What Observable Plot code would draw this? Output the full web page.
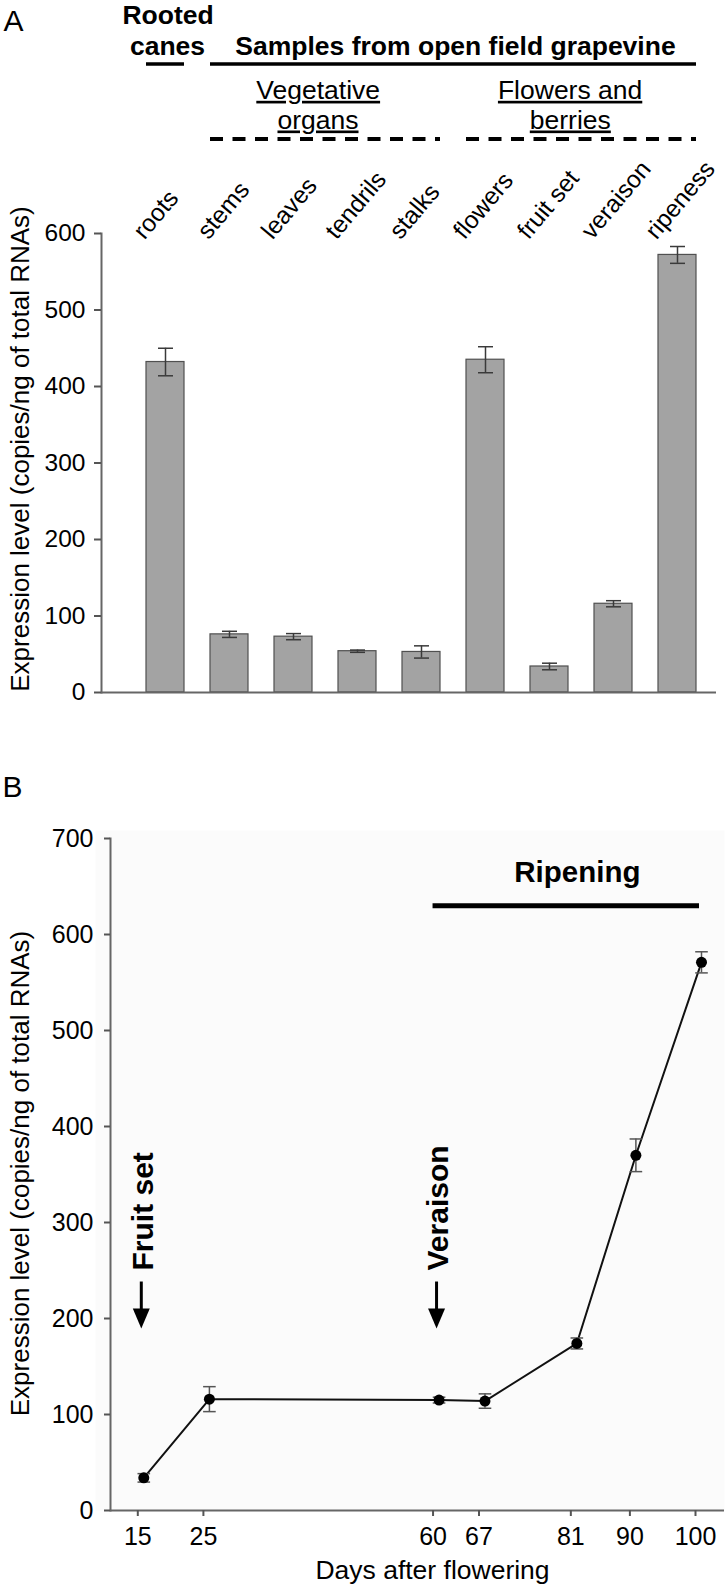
<!DOCTYPE html>
<html>
<head>
<meta charset="utf-8">
<script src="https://cdn.jsdelivr.net/npm/d3@7"></script>
<script src="https://cdn.jsdelivr.net/npm/@observablehq/plot@0.6"></script>
<style>
  body { margin: 0; background: #fff; }
  #chart { width: 728px; }
  #chart svg { display: block; }
  text[aria-label="ul"] { text-decoration: underline; text-decoration-thickness: 1.5px; text-underline-offset: 3px; }
</style>
</head>
<body>
<div id="chart"></div>
<script>
// ---------- Panel A data ----------
const organs = ["roots", "stems", "leaves", "tendrils", "stalks", "flowers", "fruit set", "veraison", "ripeness"];
const organValues = [432, 76, 73, 54, 53, 435, 34, 116, 572];
const organErrors = [18, 4, 4, 1.5, 8, 17, 4.3, 4, 11];
const yTicksA = [0, 100, 200, 300, 400, 500, 600];

// ---------- Panel B data ----------
const days = [15, 25, 60, 67, 81, 90, 100];
const dayValues = [34, 116, 115, 114, 174, 370, 571];
const dayErrors = [4.4, 13, 3, 7.5, 5.7, 17, 11];
const yTicksB = [0, 100, 200, 300, 400, 500, 600, 700];
const xTicksB = [15, 25, 60, 67, 81, 90, 100];
const events = ["Fruit set", "Veraison"];
const eventDays = [15, 60];
const ripeningSpan = [60, 100];

const FONT = '"Liberation Sans", Arial, Helvetica, sans-serif';

// custom symbols
const hline = {draw(ctx, size) { const r = Math.sqrt(size / Math.PI); ctx.moveTo(-r, 0); ctx.lineTo(r, 0); }};
const headDown = {draw(ctx, size) { const r = Math.sqrt(size / Math.PI); ctx.moveTo(-0.85 * r, -r); ctx.lineTo(0.85 * r, -r); ctx.lineTo(0, r); ctx.closePath(); }};

const tableA = organs.map((o, i) => ({organ: o, value: organValues[i], lo: organValues[i] - organErrors[i], hi: organValues[i] + organErrors[i]}));
const tableB = days.map((d, i) => ({day: d, value: dayValues[i], lo: dayValues[i] - dayErrors[i], hi: dayValues[i] + dayErrors[i]}));

const ul = () => "ul";

const plotA = Plot.plot({
  width: 728, height: 705,
  marginTop: 233, marginBottom: 13, marginLeft: 101, marginRight: 12,
  style: {fontFamily: FONT, background: "white", color: "black", overflow: "visible"},
  x: {domain: organs, range: [145, 697], paddingInner: 0.4, paddingOuter: 0, axis: null},
  y: {domain: [0, 600], axis: null},
  marks: [
    Plot.barY(tableA, {x: "organ", y: "value", fill: "#a3a3a3", stroke: "#505050", strokeWidth: 1.2}),
    Plot.ruleX(tableA, {x: "organ", y1: "lo", y2: "hi", stroke: "#3a3a3a", strokeWidth: 1.5}),
    Plot.dot(tableA, {x: "organ", y: "lo", symbol: hline, r: 7.5, fill: "none", stroke: "#3a3a3a", strokeWidth: 1.5}),
    Plot.dot(tableA, {x: "organ", y: "hi", symbol: hline, r: 7.5, fill: "none", stroke: "#3a3a3a", strokeWidth: 1.5}),
    Plot.ruleY([0], {stroke: "#666", strokeWidth: 2}),
    Plot.frame({anchor: "left", stroke: "#666", strokeWidth: 2}),
    Plot.axisY(yTicksA, {tickSize: 7, tickPadding: 9, fontSize: 24.5, stroke: "#555", strokeWidth: 2, fill: "black", label: null}),
    // y title
    Plot.text(["Expression level (copies/ng of total RNAs)"], {frameAnchor: "left", rotate: -90, textAnchor: "middle", lineAnchor: "bottom", dx: -73, dy: -14, fontSize: 26, fill: "black"}),
    // category labels
    Plot.text(organs, {x: (d) => d, frameAnchor: "top", rotate: -50, textAnchor: "start", lineAnchor: "bottom", dx: -21, dy: 7, fontSize: 24.5, fill: "black"}),
    // panel letter
    Plot.text(["A"], {frameAnchor: "top-left", textAnchor: "start", lineAnchor: "bottom", dx: -98, dy: -203, fontSize: 30, fill: "black"}),
    // header: rooted canes
    Plot.text(["Rooted"], {x: () => "roots", frameAnchor: "top", lineAnchor: "bottom", dx: 2.5, dy: -209.5, fontSize: 26.5, fontWeight: "bold", fill: "black"}),
    Plot.text(["canes"], {x: () => "roots", frameAnchor: "top", lineAnchor: "bottom", dx: 2, dy: -178.5, fontSize: 26.5, fontWeight: "bold", fill: "black"}),
    Plot.ruleY([600], {x1: () => "roots", x2: () => "roots", dy: -169.5, stroke: "black", strokeWidth: 3.5}),
    // header: open field
    Plot.text(["Samples from open field grapevine"], {x: () => "stalks", frameAnchor: "top", lineAnchor: "bottom", dx: 34, dy: -178.5, fontSize: 26.5, fontWeight: "bold", fill: "black"}),
    Plot.ruleY([600], {x1: () => "stems", x2: () => "ripeness", dy: -169.5, stroke: "black", strokeWidth: 3.5}),
    // sub-groups (underlined)
    Plot.text(["Vegetative"], {x: () => "leaves", frameAnchor: "top", lineAnchor: "bottom", dx: 24.7, dy: -134.7, fontSize: 26.5, fill: "black", ariaLabel: ul}),
    Plot.text(["organs"], {x: () => "leaves", frameAnchor: "top", lineAnchor: "bottom", dx: 24.5, dy: -105, fontSize: 26.5, fill: "black", ariaLabel: ul}),
    Plot.text(["Flowers and"], {x: () => "fruit set", frameAnchor: "top", lineAnchor: "bottom", dx: 20.6, dy: -134.7, fontSize: 26.5, fill: "black", ariaLabel: ul}),
    Plot.text(["berries"], {x: () => "fruit set", frameAnchor: "top", lineAnchor: "bottom", dx: 20.8, dy: -105, fontSize: 26.5, fill: "black", ariaLabel: ul}),
    Plot.ruleY([600], {x1: () => "stems", x2: () => "stalks", dy: -94.5, stroke: "black", strokeWidth: 4, strokeDasharray: "13,9.5"}),
    Plot.ruleY([600], {x1: () => "flowers", x2: () => "ripeness", dy: -94.5, stroke: "black", strokeWidth: 4, strokeDasharray: "13,9.5"})
  ]
});

const plotB = Plot.plot({
  width: 728, height: 884,
  marginTop: 133, marginBottom: 79, marginLeft: 110, marginRight: 4,
  style: {fontFamily: FONT, background: "white", color: "black", overflow: "visible"},
  x: {domain: [10.84, 104.42]},
  y: {domain: [0, 700]},
  marks: [
    Plot.frame({fill: "#fbfbfb", stroke: "none", insetLeft: -15, insetTop: -8}),
    Plot.ruleY([0], {stroke: "#666", strokeWidth: 2}),
    Plot.frame({anchor: "left", stroke: "#666", strokeWidth: 2}),
    Plot.axisY(yTicksB, {tickSize: 6, tickPadding: 11, fontSize: 25, stroke: "#555", strokeWidth: 2, fill: "black", label: null}),
    Plot.axisX(xTicksB, {tickSize: 6, tickPadding: 11, fontSize: 25, stroke: "#555", strokeWidth: 2, fill: "black", label: null}),
    Plot.text(["Days after flowering"], {frameAnchor: "bottom", lineAnchor: "bottom", dx: 15, dy: 68, fontSize: 26.5, fill: "black"}),
    Plot.text(["Expression level (copies/ng of total RNAs)"], {frameAnchor: "left", rotate: -90, textAnchor: "middle", lineAnchor: "bottom", dx: -82, dy: -1, fontSize: 26, fill: "black"}),
    Plot.text(["B"], {frameAnchor: "top-left", textAnchor: "start", lineAnchor: "bottom", dx: -108, dy: -41.3, fontSize: 30, fill: "black"}),
    // ripening
    Plot.ruleY([630], {x1: () => ripeningSpan[0], x2: () => ripeningSpan[1], insetRight: -4, stroke: "black", strokeWidth: 5}),
    Plot.text(["Ripening"], {x: () => 82, y: () => 655, lineAnchor: "bottom", fontSize: 29.5, fontWeight: "bold", fill: "black"}),
    // events
    Plot.text(events, {x: (d, i) => eventDays[i], y: () => 250, rotate: -90, textAnchor: "start", lineAnchor: "bottom", dx: 15, fontSize: 30, fontWeight: "bold", fill: "black"}),
    Plot.ruleX(eventDays, {x: (d) => d, y1: () => 238, y2: () => 208, dx: 3.5, stroke: "black", strokeWidth: 3}),
    Plot.dot(eventDays, {x: (d) => d, y: () => 200, symbol: headDown, r: 10, dx: 3.5, fill: "black", stroke: "none"}),
    // data
    Plot.line(tableB, {x: "day", y: "value", dx: 6, stroke: "#111", strokeWidth: 2}),
    Plot.ruleX(tableB, {x: "day", y1: "lo", y2: "hi", dx: 6, stroke: "#555", strokeWidth: 1.5}),
    Plot.dot(tableB, {x: "day", y: "lo", dx: 6, symbol: hline, r: 6.3, fill: "none", stroke: "#555", strokeWidth: 1.5}),
    Plot.dot(tableB, {x: "day", y: "hi", dx: 6, symbol: hline, r: 6.3, fill: "none", stroke: "#555", strokeWidth: 1.5}),
    Plot.dot(tableB, {x: "day", y: "value", dx: 6, r: 5.5, fill: "black", stroke: "none"})
  ]
});

const root = document.getElementById("chart");
root.appendChild(plotA);
root.appendChild(plotB);
</script>
</body>
</html>
